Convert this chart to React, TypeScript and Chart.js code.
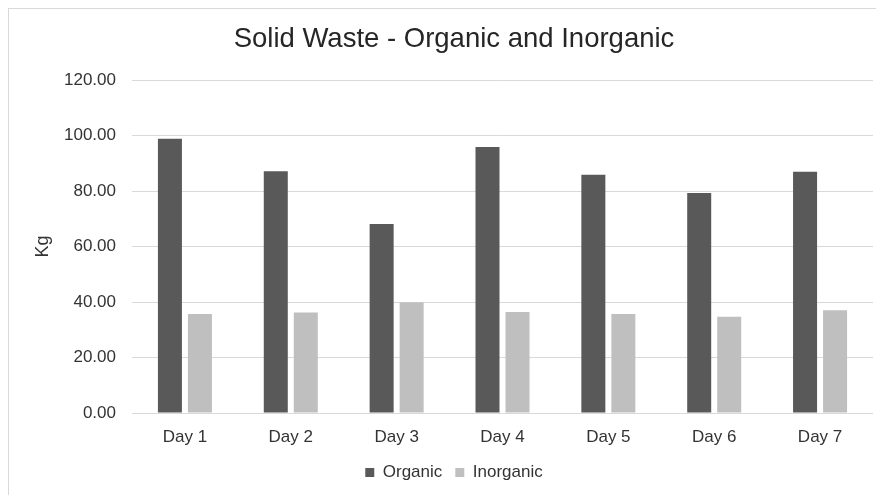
import { useEffect, useRef } from "react";
import { Chart, registerables } from "chart.js";

Chart.register(...registerables);

const categories = ["Day 1", "Day 2", "Day 3", "Day 4", "Day 5", "Day 6", "Day 7"];
const organic = [98.8, 87.1, 68.1, 95.9, 85.9, 79.3, 86.9];
const inorganic = [35.7, 36.2, 39.9, 36.4, 35.7, 34.7, 37.0];
const yMin = 0;
const yMax = 120;
const yStep = 20;

const FONT = "'Liberation Sans', Arial, sans-serif";

export default function App() {
  const ref = useRef<HTMLCanvasElement>(null);

  useEffect(() => {
    const chart = new Chart(ref.current!, {
      type: "bar",
      data: {
        labels: categories,
        datasets: [
          {
            label: "Organic",
            data: organic,
            backgroundColor: "#595959",
            categoryPercentage: 0.567,
            barPercentage: 0.8,
          },
          {
            label: "Inorganic",
            data: inorganic,
            backgroundColor: "#bfbfbf",
            categoryPercentage: 0.567,
            barPercentage: 0.8,
          },
        ],
      },
      options: {
        responsive: false,
        animation: false,
        devicePixelRatio: 1,
        layout: { padding: { top: 0, left: 26, right: 11, bottom: 4 } },
        plugins: {
          title: {
            display: true,
            text: "Solid Waste - Organic and Inorganic",
            color: "#262626",
            font: { family: FONT, size: 27.5, weight: "normal" },
            padding: { top: 14, bottom: 24 },
          },
          legend: {
            position: "bottom",
            labels: {
              boxWidth: 9,
              boxHeight: 9,
              padding: 13,
              color: "#333333",
              font: { family: FONT, size: 17 },
            },
          },
          tooltip: { enabled: false },
        },
        scales: {
          x: {
            grid: { display: false },
            border: { display: false },
            ticks: {
              color: "#333333",
              font: { family: FONT, size: 17 },
              padding: 6,
            },
            afterFit: (scale: any) => {
              scale.height = 38;
            },
          },
          y: {
            min: yMin,
            max: yMax,
            grid: { color: "#d9d9d9", lineWidth: 1, drawTicks: false },
            border: { display: false },
            ticks: {
              stepSize: yStep,
              color: "#333333",
              font: { family: FONT, size: 17 },
              padding: 16,
              callback: (v: any) => Number(v).toFixed(2),
            },
            title: {
              display: true,
              text: "Kg",
              color: "#333333",
              font: { family: FONT, size: 18 },
              padding: { top: -3, bottom: 0 },
            },
            afterFit: (scale: any) => {
              scale.width = 97;
            },
          },
        },
      },
    });
    return () => chart.destroy();
  }, []);

  return (
    <>
      <style>{"html,body{overflow:hidden;background:#fff}"}</style>
      <div
        style={{
          width: 875,
          height: 486,
          borderTop: "1px solid #d9d9d9",
          borderLeft: "1px solid #d9d9d9",
          overflow: "hidden",
          background: "#fff",
        }}
      >
        <canvas ref={ref} width={875} height={486} style={{ display: "block", width: 875, height: 486 }} />
      </div>
    </>
  );
}
